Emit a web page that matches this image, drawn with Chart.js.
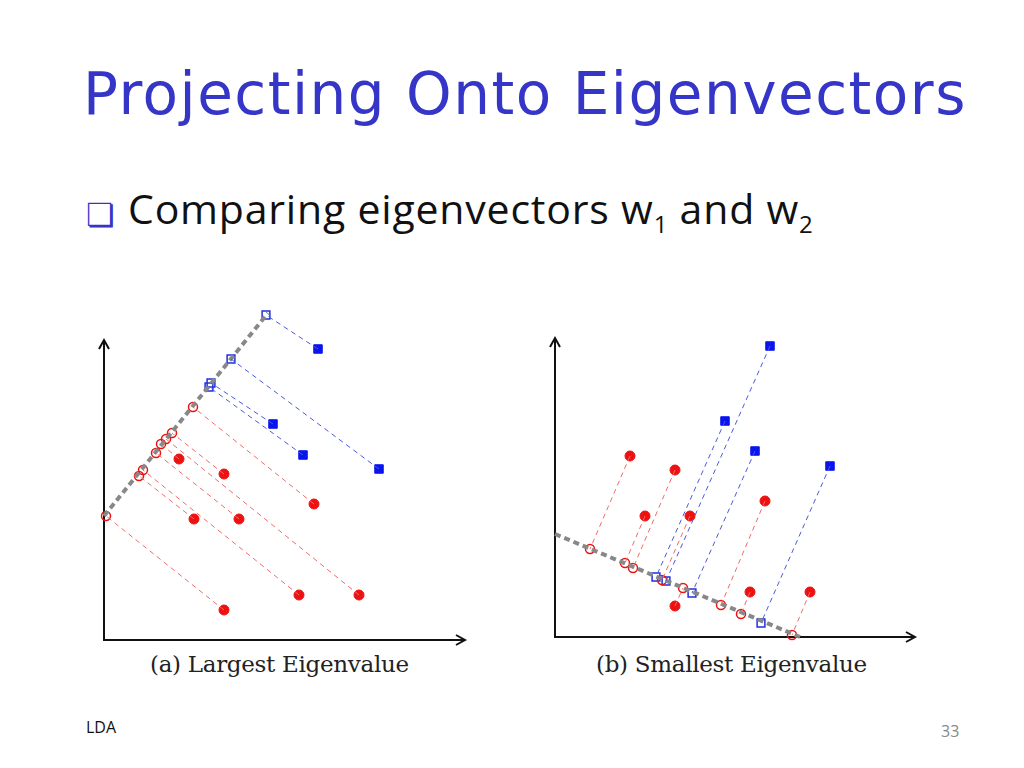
<!DOCTYPE html>
<html><head><meta charset="utf-8">
<script src="https://cdn.jsdelivr.net/npm/chart.js@4"></script>
<style>
body{margin:0;width:1024px;height:768px;background:#fff;position:relative;overflow:hidden;font-family:"Open Sans",sans-serif}
.t{position:absolute;white-space:nowrap}
canvas{position:absolute}
</style></head><body>
<div class="t" style="left:83px;top:60px;font:58px 'Comic Sans MS','DejaVu Sans',sans-serif;color:#3535c8;letter-spacing:1.5px">Projecting Onto Eigenvectors</div>
<div class="t" style="left:86px;top:192px;font-size:32px;color:#3535c8">&#x274F;</div>
<div class="t" style="left:128px;top:180px;font-size:41px;color:#111;letter-spacing:0.8px">Comparing eigenvectors w<sub style="font-size:24px">1</sub> and w<sub style="font-size:24px">2</sub></div>
<div class="t" style="left:150px;top:651px;font:23px 'DejaVu Serif','Liberation Serif',serif;color:#222;letter-spacing:-0.3px">(a) Largest Eigenvalue</div>
<div class="t" style="left:596px;top:651px;font:23px 'DejaVu Serif','Liberation Serif',serif;color:#222;letter-spacing:-0.3px">(b) Smallest Eigenvalue</div>
<div class="t" style="left:86px;top:716px;font-size:16px;color:#111">LDA</div>
<div class="t" style="left:941px;top:720px;font-size:16px;color:#888">33</div>
<canvas id="cA" width="400" height="370" style="left:84px;top:290px"></canvas>
<canvas id="cB" width="400" height="370" style="left:535px;top:290px"></canvas>
<script>
// values are in slide pixel units (x right, y down)
// chart (a)
const aBlue = [[318,349],[379,469],[273,424],[303,455]];
const aBlueProj = [[266,315],[231,359],[211,383],[209,387]];
const aRed = [[314,504],[224,474],[359,595],[179,459],[239,519],[299,595],[194,519],[224,610]];
const aRedProj = [[193,407],[172,433],[166,439],[161,444],[156,453],[143,470],[139,476],[106,516]];
const aDir = [[104,516],[268,313]];
const aAxes = {x0:104, y0:640, xEnd:465, yEnd:340};
// chart (b)
const bBlue = [[725,421],[770,346],[755,451],[830,466]];
const bBlueProj = [[656,577],[666,581],[692,593],[761,623]];
const bRed = [[630,456],[645,516],[675,470],[690,516],[675,606],[765,501],[750,592],[810,592]];
const bRedProj = [[590,549],[625,563],[633,568],[662,580],[683,588],[721,605],[741,614],[792,635]];
const bDir = [[555,534],[800,637]];
const bAxes = {x0:555, y0:637, xEnd:915, yEnd:338};

const pts = a => a.map(p => ({x:p[0], y:p[1]}));

const axesPlugin = {
  id:'axes',
  beforeDatasetsDraw(chart, args, opts) {
    const {ctx, scales:{x, y}} = chart;
    const ox = x.getPixelForValue(opts.x0), oy = y.getPixelForValue(opts.y0);
    const ex = x.getPixelForValue(opts.xEnd), ey = y.getPixelForValue(opts.yEnd);
    ctx.save();
    ctx.strokeStyle = '#111'; ctx.lineWidth = 2;
    ctx.beginPath();
    ctx.moveTo(ox, ey); ctx.lineTo(ox, oy); ctx.lineTo(ex, oy);
    ctx.moveTo(ex-9, oy-5); ctx.lineTo(ex, oy); ctx.lineTo(ex-9, oy+5);
    ctx.moveTo(ox-5, ey+9); ctx.lineTo(ox, ey); ctx.lineTo(ox+5, ey+9);
    ctx.stroke();
    ctx.restore();
  }
};

function build(id, blue, blueProj, red, redProj, dir, axes, xmin, xmax) {
  const ds = [];
  red.forEach((p, i) => ds.push({type:'line', data:pts([p, redProj[i]]), borderColor:'#f06a6a', borderWidth:1, borderDash:[5,4], pointRadius:0, clip:false}));
  blue.forEach((p, i) => ds.push({type:'line', data:pts([p, blueProj[i]]), borderColor:'#4a5ad8', borderWidth:1, borderDash:[5,4], pointRadius:0, clip:false}));
  ds.push({type:'line', data:pts(dir), borderColor:'#888', borderWidth:4, borderDash:[6,4], pointRadius:0, clip:false});
  ds.push({data:pts(red), pointStyle:'circle', pointRadius:5, backgroundColor:'#ee1111', borderColor:'#ee1111', clip:false});
  ds.push({data:pts(redProj), pointStyle:'circle', pointRadius:4.5, backgroundColor:'rgba(255,255,255,0)', borderColor:'#ee1111', borderWidth:1.5, clip:false});
  ds.push({data:pts(blue), pointStyle:'rect', pointRadius:6, backgroundColor:'#0a14ee', borderColor:'#0a14ee', clip:false});
  ds.push({data:pts(blueProj), pointStyle:'rect', pointRadius:5.5, backgroundColor:'rgba(255,255,255,0)', borderColor:'#2030e0', borderWidth:1.5, clip:false});
  new Chart(document.getElementById(id), {
    type:'scatter',
    data:{datasets:ds},
    options:{
      responsive:false, animation:false,
      layout:{padding:0, autoPadding:false},
      plugins:{legend:{display:false}, tooltip:{enabled:false}, axes:axes},
      scales:{
        x:{type:'linear', min:xmin, max:xmax, display:false},
        y:{type:'linear', min:290, max:660, reverse:true, display:false}
      }
    },
    plugins:[axesPlugin]
  });
}
build('cA', aBlue, aBlueProj, aRed, aRedProj, aDir, aAxes, 84, 484);
build('cB', bBlue, bBlueProj, bRed, bRedProj, bDir, bAxes, 535, 935);
</script>
</body></html>
